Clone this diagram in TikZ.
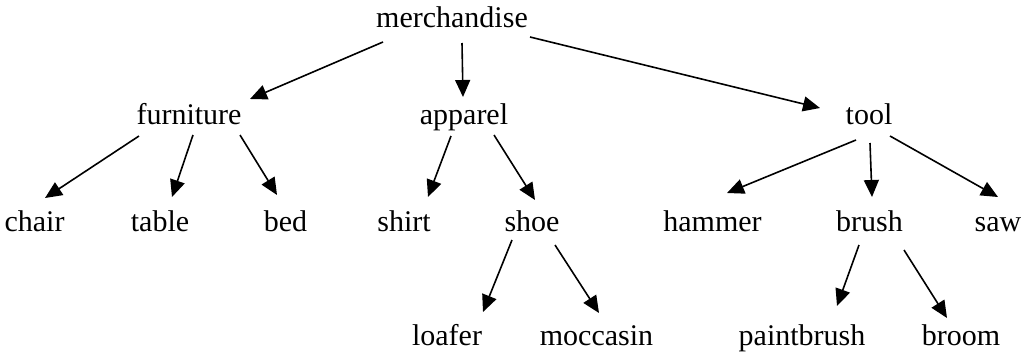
\documentclass[tikz,border=0pt]{standalone}
\usepackage{fontspec}
\setmainfont{Liberation Serif}
\usetikzlibrary{arrows.meta}
\begin{document}
\begin{tikzpicture}[x=1pt,y=-1pt,
  lbl/.style={anchor=base,inner sep=0pt,font=\fontsize{30}{36}\selectfont},
  arr/.style={line width=1.6pt,-{Triangle[length=17pt,width=15pt]}}]
\useasboundingbox (0,0) rectangle (1021,354);
\node[lbl] (merch) at (452,27) {merchandise};
\node[lbl] (furn) at (189,124) {furniture};
\node[lbl] (app) at (464,124) {apparel};
\node[lbl] (tool) at (869,124) {tool};
\node[lbl] (chair) at (34.5,231) {chair};
\node[lbl] (table) at (160,231) {table};
\node[lbl] (bed) at (285.5,231) {bed};
\node[lbl] (shirt) at (404,231) {shirt};
\node[lbl] (shoe) at (532,231) {shoe};
\node[lbl] (hammer) at (712.5,231) {hammer};
\node[lbl] (brush) at (869.5,231) {brush};
\node[lbl] (saw) at (998,231) {saw};
\node[lbl] (loafer) at (447,345) {loafer};
\node[lbl] (moc) at (596.5,345) {moccasin};
\node[lbl] (paint) at (802,345) {paintbrush};
\node[lbl] (broom) at (961,345) {broom};
\draw[arr] ([shift={(-69,15)}]merch.base) -- ([shift={(61,-25)}]furn.base);
\draw[arr] ([shift={(10,16)}]merch.base) -- ([shift={(-1,-27)}]app.base);
\draw[arr] ([shift={(78,10)}]merch.base) -- ([shift={(-49,-16)}]tool.base);
\draw[arr] ([shift={(-50,12)}]furn.base) -- ([shift={(10.5,-33)}]chair.base);
\draw[arr] ([shift={(4,11)}]furn.base) -- ([shift={(12,-34)}]table.base);
\draw[arr] ([shift={(51,11)}]furn.base) -- ([shift={(-8.5,-36)}]bed.base);
\draw[arr] ([shift={(-13,12)}]app.base) -- ([shift={(24,-34)}]shirt.base);
\draw[arr] ([shift={(30,11)}]app.base) -- ([shift={(3,-31)}]shoe.base);
\draw[arr] ([shift={(-13,16)}]tool.base) -- ([shift={(14.5,-38)}]hammer.base);
\draw[arr] ([shift={(1,19)}]tool.base) -- ([shift={(2.5,-34)}]brush.base);
\draw[arr] ([shift={(21,12)}]tool.base) -- ([shift={(0,-34)}]saw.base);
\draw[arr] ([shift={(-20,9)}]shoe.base) -- ([shift={(36,-33)}]loafer.base);
\draw[arr] ([shift={(23,14)}]shoe.base) -- ([shift={(2.5,-32)}]moc.base);
\draw[arr] ([shift={(-10.5,14)}]brush.base) -- ([shift={(35,-39)}]paint.base);
\draw[arr] ([shift={(34.5,19)}]brush.base) -- ([shift={(-14,-27)}]broom.base);
\end{tikzpicture}
\end{document}
